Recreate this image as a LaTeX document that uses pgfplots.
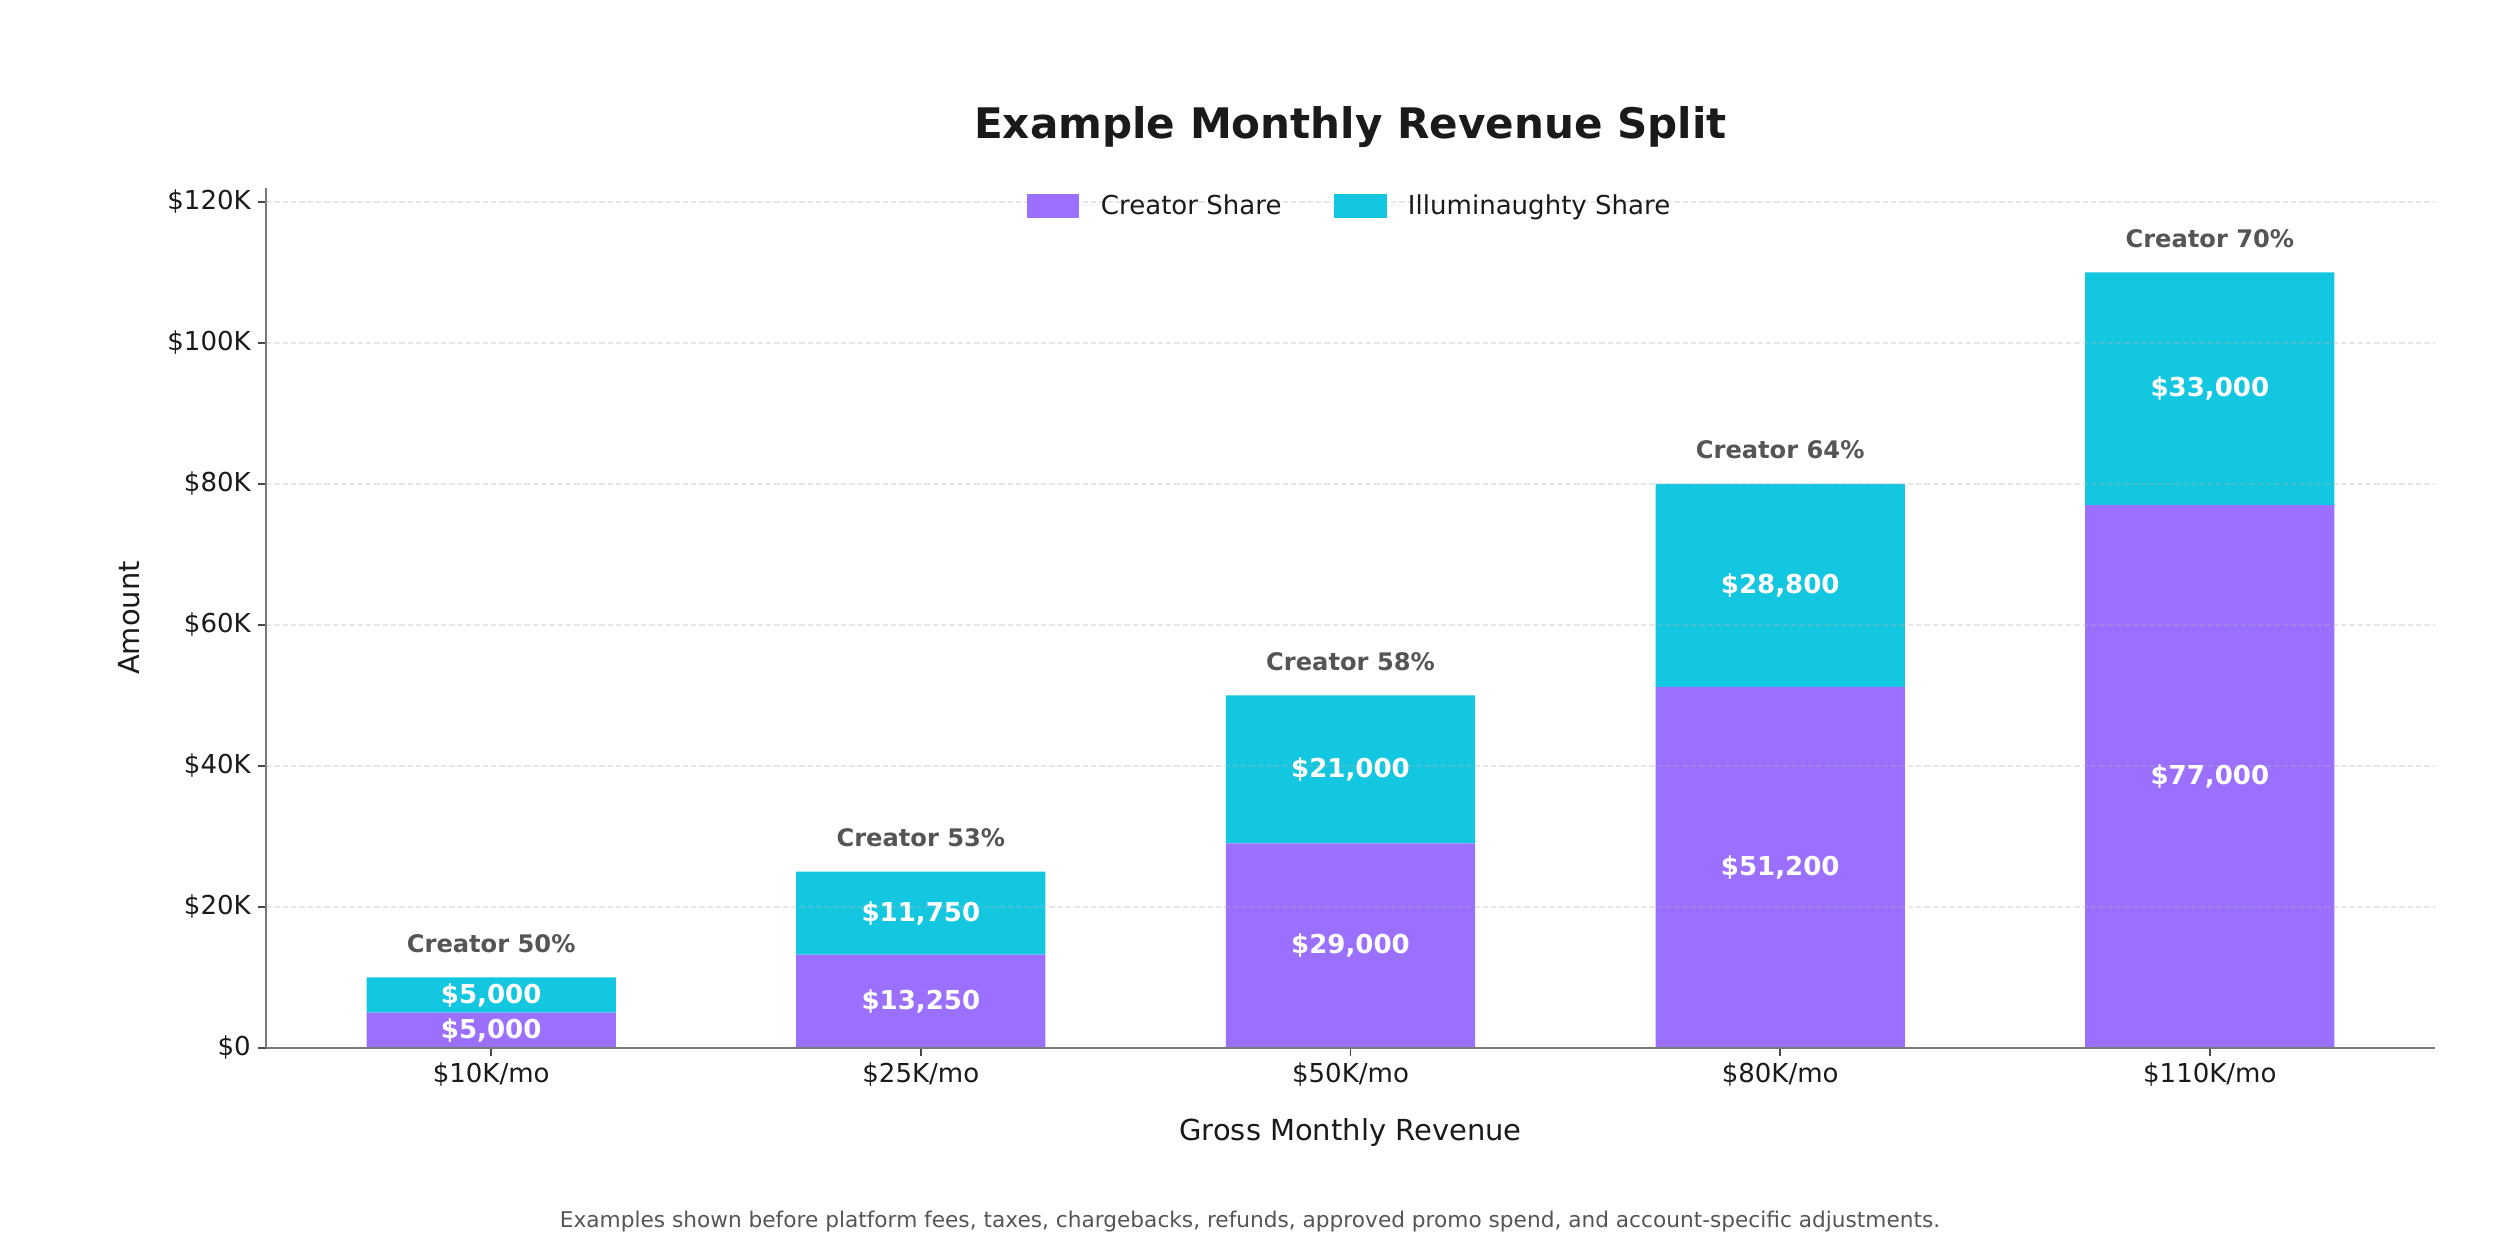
\documentclass[border=0pt]{standalone}
\usepackage{fontspec}
\setmainfont{DejaVu Sans}
\usepackage{pgfplots}
\pgfplotsset{compat=1.18}
\usepackage{pgfplotstable}

\definecolor{creator}{HTML}{9B70FF}
\definecolor{illum}{HTML}{14C7E0}
\definecolor{ink}{HTML}{1A1A1A}
\definecolor{note}{HTML}{555555}
\definecolor{spine}{HTML}{7A7A7A}
\definecolor{gridc}{HTML}{B0B0B0}

\newcommand{\fs}[1]{\fontsize{#1}{#1}\selectfont}

% values in thousands of dollars
\pgfplotstableread{
x y
0 5
1 13.25
2 29
3 51.2
4 77
}\creatortab

\pgfplotstableread{
x y
0 5
1 11.75
2 21
3 28.8
4 33
}\illumtab

% label positions: middle of each segment, and bar totals
\pgfplotstableread{
x y label
0 2.5    {\$5,000}
1 6.625  {\$13,250}
2 14.5   {\$29,000}
3 25.6   {\$51,200}
4 38.5   {\$77,000}
0 7.5    {\$5,000}
1 19.125 {\$11,750}
2 39.5   {\$21,000}
3 65.6   {\$28,800}
4 93.5   {\$33,000}
}\segtab

\pgfplotstableread{
x y label
0 10  {Creator 50\%}
1 25  {Creator 53\%}
2 50  {Creator 58\%}
3 80  {Creator 64\%}
4 110 {Creator 70\%}
}\pcttab

\pgfplotsset{
  frame/.style={
    at={(127.7pt,97pt)}, anchor=south west,
    scale only axis, width=1041.1pt, height=412.8pt,
    xmin=-0.524, xmax=4.524, ymin=0, ymax=122,
  },
}

\begin{document}
\begin{tikzpicture}
\begin{axis}[
  frame,
  ybar stacked, bar width=0.58,
  xtick={0,1,2,3,4},
  xticklabels={\$10K/mo,\$25K/mo,\$50K/mo,\$80K/mo,\$110K/mo},
  ytick={0,20,40,60,80,100,120},
  yticklabels={\$0,\$20K,\$40K,\$60K,\$80K,\$100K,\$120K},
  axis x line*=bottom, axis y line*=left,
  axis line style={draw=spine, line width=1pt},
  tick align=outside, major tick length=3.8pt,
  tick style={draw=ink!80, line width=0.8pt},
  ymajorgrids,
  major grid style={draw=gridc, draw opacity=0.3, dash pattern=on 2.6pt off 1.4pt, line width=0.7pt},
  axis on top,
  ticklabel style={font=\fs{12.5pt}, text=ink},
  title={Example Monthly Revenue Split},
  title style={font=\bfseries\fs{20.2pt}, text=ink, at={(axis description cs:0.5,1.0558)}, anchor=center},
  xlabel={Gross Monthly Revenue}, ylabel={Amount},
  label style={font=\fs{13.9pt}, text=ink},
  xlabel style={at={(axis description cs:0.5,-0.0979)}, anchor=center},
  ylabel style={at={(axis description cs:-0.0632,0.5)}, anchor=center},
  legend columns=2,
  legend style={at={(axis description cs:0.5,0.979)}, anchor=center, draw=none, fill=none,
    font=\fs{12.5pt}, text=ink,
    /tikz/every even column/.append style={column sep=23pt}},
]
\addplot[fill=creator, draw=none,
  legend image code/.code={\fill[creator] (0pt,-5.75pt) rectangle (25.4pt,5.75pt);
    \path (0pt,0pt) -- (33.7pt,0pt);}]
  table[x=x, y=y] {\creatortab};
\addplot[fill=illum, draw=none,
  legend image code/.code={\fill[illum] (0pt,-5.75pt) rectangle (25.4pt,5.75pt);
    \path (0pt,0pt) -- (33.7pt,0pt);}]
  table[x=x, y=y] {\illumtab};
\legend{Creator Share, Illuminaughty Share}
\end{axis}

% labels on the same frame
\begin{axis}[frame, hide axis, clip=false]
\addplot[draw=none, mark=none, nodes near coords, point meta=explicit symbolic,
  nodes near coords style={anchor=center, font=\bfseries\fs{12.5pt}, text=white}]
  table[x=x, y=y, meta=label] {\segtab};
\addplot[draw=none, mark=none, nodes near coords, point meta=explicit symbolic,
  nodes near coords style={anchor=center, yshift=16.3pt, font=\bfseries\fs{11.6pt}, text=note}]
  table[x=x, y=y, meta=label] {\pcttab};
\end{axis}

\node[font=\fs{10.4pt}, text=note] at (600pt,13.9pt)
  {Examples shown before platform fees, taxes, chargebacks, refunds, approved promo spend, and account-specific adjustments.};
\pgfresetboundingbox
\useasboundingbox (0,0) rectangle (1200pt,600pt);
\end{tikzpicture}
\end{document}
